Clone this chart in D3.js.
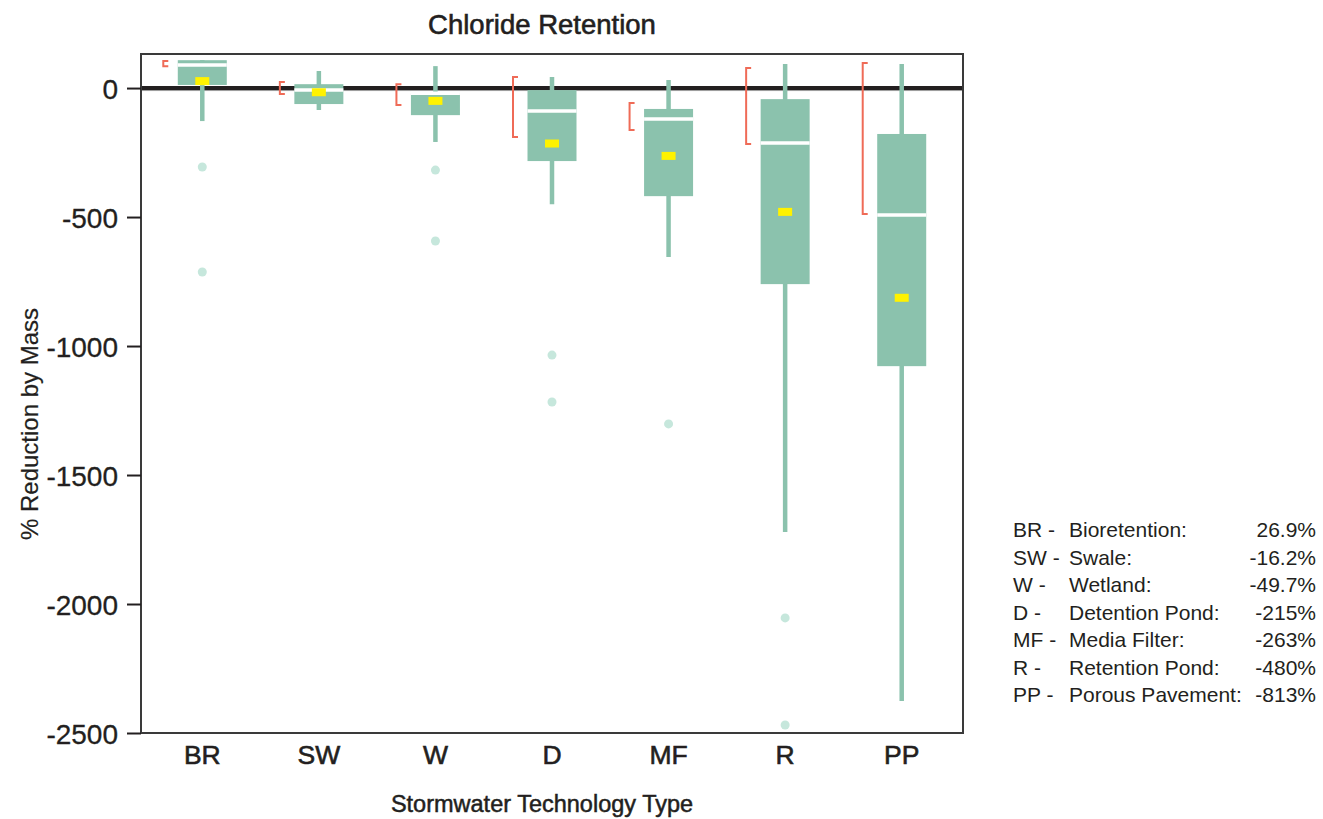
<!DOCTYPE html>
<html>
<head>
<meta charset="utf-8">
<script src="https://cdn.jsdelivr.net/npm/d3@7"></script>
<style>
  body { margin: 0; background: #fff; }
  text { font-family: "Liberation Sans", Arial, Helvetica, sans-serif; fill: #231f20; }
</style>
</head>
<body>
<div id="chart"></div>
<script>
// categories and legend text
var categories = ['BR', 'SW', 'W', 'D', 'MF', 'R', 'PP']
var names = ['Bioretention:', 'Swale:', 'Wetland:', 'Detention Pond:', 'Media Filter:', 'Retention Pond:', 'Porous Pavement:']
var meanLabels = ['26.9%', '-16.2%', '-49.7%', '-215%', '-263%', '-480%', '-813%']

// box plot stats (% reduction by mass)
var means = [26.9, -16.2, -49.7, -215, -263, -480, -813]
var whiskerHi = [108, 66, 85, 43, 31, 93, 93]
var q3 = [108, 15, -20, -8, -81, -43, -178]
var medians = [89, -8, -20, -89, -120, -213, -492]
var q1 = [12, -62, -105, -283, -419, -760, -1078]
var whiskerLo = [-128, -85, -209, -450, -655, -1721, -2376]
var outliers = [[-306, -713], [], [-318, -593], [-1035, -1217], [-1302], [-2054, -2469], []]

// red brackets on the left of each box
var bracketHi = [105, 23, 15, 43, -58, 78, 97]
var bracketLo = [85, -23, -66, -190, -163, -217, -488]

// axis
var yDomain = [-2500, 132]
var yTicks = [0, -500, -1000, -1500, -2000, -2500]

var W = 1323, H = 819
var margin = { top: 54, right: 360, bottom: 86, left: 141 }
var innerW = W - margin.left - margin.right
var innerH = H - margin.top - margin.bottom

var colors = {
  box: '#8bc2ad',
  outlier: '#c6e7dc',
  mean: '#fff200',
  bracket: '#ef6b57',
  zero: '#231f20',
  frame: '#3a3a3a'
}

var svg = d3.select('#chart').append('svg')
  .attr('width', W)
  .attr('height', H)

var g = svg.append('g')
  .attr('transform', 'translate(' + margin.left + ',' + margin.top + ')')

var x = d3.scaleBand()
  .domain(categories)
  .range([3, innerW - 3])

var y = d3.scaleLinear()
  .domain(yDomain)
  .range([innerH, 0])

var boxW = 49

/**
 * 数据整理
 */
var rows = categories.map(function(c, i) {
  return {
    key: c,
    cx: x(c) + x.bandwidth() / 2,
    mean: means[i],
    hi: whiskerHi[i],
    q3: q3[i],
    med: medians[i],
    q1: q1[i],
    lo: whiskerLo[i],
    out: outliers[i],
    bHi: bracketHi[i],
    bLo: bracketLo[i]
  }
})

// zero line (under the boxes)
g.append('line')
  .attr('x1', 0).attr('x2', innerW)
  .attr('y1', y(0) + 2.5).attr('y2', y(0) + 2.5)
  .attr('stroke', '#9a9a9a')
  .attr('stroke-width', 1)
g.append('line')
  .attr('x1', 0).attr('x2', innerW)
  .attr('y1', y(0)).attr('y2', y(0))
  .attr('stroke', colors.zero)
  .attr('stroke-width', 4)

var item = g.selectAll('.item')
  .data(rows)
  .enter()
  .append('g')
  .attr('class', 'item')

// whiskers
item.append('line')
  .attr('x1', function(d) { return d.cx })
  .attr('x2', function(d) { return d.cx })
  .attr('y1', function(d) { return y(d.hi) })
  .attr('y2', function(d) { return y(d.lo) })
  .attr('stroke', colors.box)
  .attr('stroke-width', 4.5)

// boxes
item.append('rect')
  .attr('x', function(d) { return d.cx - boxW / 2 })
  .attr('y', function(d) { return y(d.q3) })
  .attr('width', boxW)
  .attr('height', function(d) { return y(d.q1) - y(d.q3) })
  .attr('fill', colors.box)

// median
item.append('line')
  .attr('x1', function(d) { return d.cx - boxW / 2 })
  .attr('x2', function(d) { return d.cx + boxW / 2 })
  .attr('y1', function(d) { return y(d.med) })
  .attr('y2', function(d) { return y(d.med) })
  .attr('stroke', '#fff')
  .attr('stroke-width', 3.5)

// mean marker
item.append('rect')
  .attr('x', function(d) { return d.cx - 7 })
  .attr('y', function(d) { return y(d.mean) - 4 })
  .attr('width', 14)
  .attr('height', 8)
  .attr('fill', colors.mean)

// outliers
item.selectAll('circle')
  .data(function(d) { return d.out.map(function(v) { return { cx: d.cx, v: v } }) })
  .enter()
  .append('circle')
  .attr('cx', function(d) { return d.cx })
  .attr('cy', function(d) { return y(d.v) })
  .attr('r', 4.5)
  .attr('fill', colors.outlier)

// brackets
item.append('path')
  .attr('d', function(d) {
    var bx = d.cx - 39
    return 'M' + (bx + 5) + ',' + y(d.bHi) + 'H' + bx + 'V' + y(d.bLo) + 'H' + (bx + 5)
  })
  .attr('fill', 'none')
  .attr('stroke', colors.bracket)
  .attr('stroke-width', 2)

// frame
g.append('rect')
  .attr('x', 0).attr('y', 0)
  .attr('width', innerW).attr('height', innerH)
  .attr('fill', 'none')
  .attr('stroke', colors.frame)
  .attr('stroke-width', 2)

// y axis
var yAxis = g.append('g')
  .call(d3.axisLeft(y).tickValues(yTicks).tickSize(14).tickPadding(9)
    .tickFormat(function(d) { return String(d) }))
yAxis.select('.domain').remove()
yAxis.selectAll('line').attr('stroke', colors.zero).attr('stroke-width', 2)
yAxis.selectAll('text')
  .style('font-size', '28px')
  .attr('fill', '#231f20')
  .attr('stroke', '#231f20')
  .attr('stroke-width', 0.3)
  .attr('dy', '0.36em')

// x axis
var xAxis = g.append('g')
  .attr('transform', 'translate(0,' + innerH + ')')
  .call(d3.axisBottom(x).tickSize(0).tickPadding(12))
xAxis.select('.domain').remove()
xAxis.selectAll('text')
  .style('font-size', '26.5px')
  .attr('fill', '#231f20')
  .attr('stroke', '#231f20')
  .attr('stroke-width', 0.6)
  .attr('dy', '0.7em')

// titles
svg.append('text')
  .attr('x', 542).attr('y', 34)
  .attr('text-anchor', 'middle')
  .style('font-size', '27.5px')
  .attr('stroke', '#231f20').attr('stroke-width', 0.6)
  .text('Chloride Retention')

svg.append('text')
  .attr('x', 542).attr('y', 812)
  .attr('text-anchor', 'middle')
  .style('font-size', '23.5px')
  .attr('stroke', '#231f20').attr('stroke-width', 0.5)
  .text('Stormwater Technology Type')

svg.append('text')
  .attr('transform', 'translate(38,424) rotate(-90)')
  .attr('text-anchor', 'middle')
  .style('font-size', '24px')
  .attr('stroke', '#231f20').attr('stroke-width', 0.2)
  .text('% Reduction by Mass')

// legend
var legend = svg.append('g')
  .attr('transform', 'translate(1013,537)')
var lrow = legend.selectAll('g')
  .data(categories)
  .enter()
  .append('g')
  .attr('transform', function(d, i) { return 'translate(0,' + i * 27.5 + ')' })
lrow.append('text')
  .style('font-size', '21px')
  .text(function(d) { return d + ' -' })
lrow.append('text')
  .attr('x', 56)
  .style('font-size', '21px')
  .text(function(d, i) { return names[i] })
lrow.append('text')
  .attr('x', 303)
  .attr('text-anchor', 'end')
  .style('font-size', '21px')
  .text(function(d, i) { return meanLabels[i] })
</script>
</body>
</html>
